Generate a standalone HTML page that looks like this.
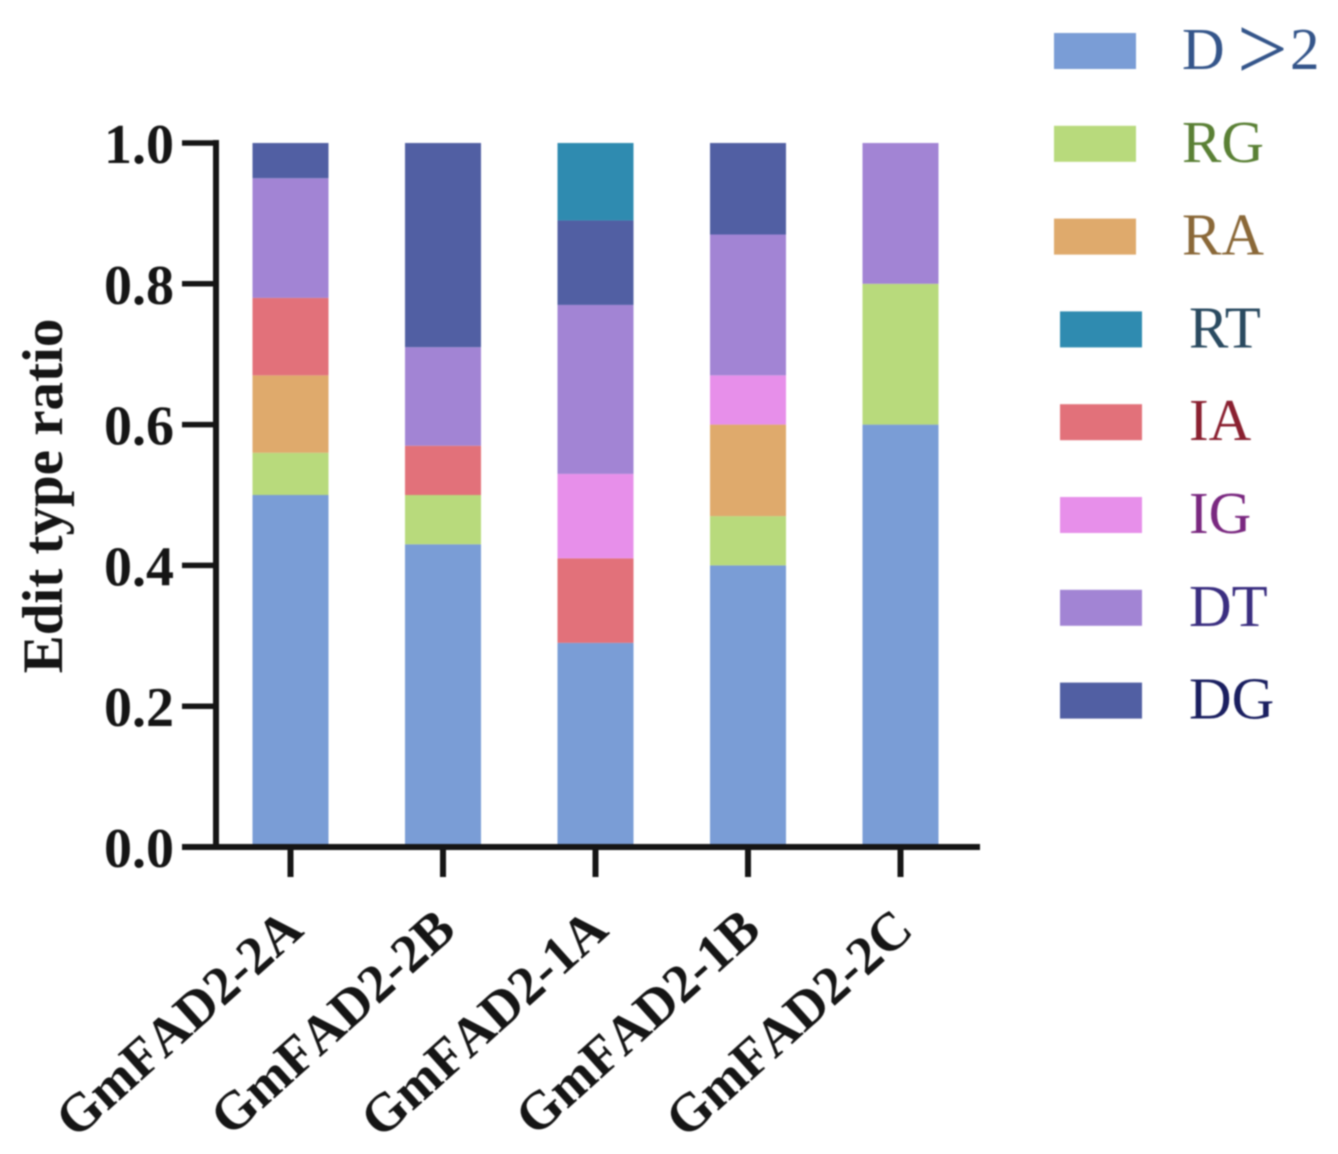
<!DOCTYPE html>
<html>
<head>
<meta charset="utf-8">
<style>
html,body{margin:0;padding:0;background:#fff;}
svg{display:block;filter:blur(0.7px);}
text{font-family:"Liberation Serif",serif;}
</style>
</head>
<body>
<svg id="chart" width="1338" height="1154" viewBox="0 0 1338 1154" xmlns="http://www.w3.org/2000/svg"></svg>
<script>
const categories = ["GmFAD2-2A","GmFAD2-2B","GmFAD2-1A","GmFAD2-1B","GmFAD2-2C"];
const seriesNames = ["D >2","RG","RA","RT","IA","IG","DT","DG"];
const seriesD2 = [0.50,0.43,0.29,0.40,0.60];
const seriesRG = [0.06,0.07,0,0.07,0.20];
const seriesRA = [0.11,0,0,0.13,0];
const seriesRT = [0,0,0.11,0,0];
const seriesIA = [0.11,0.07,0.12,0,0];
const seriesIG = [0,0,0.12,0.07,0];
const seriesDT = [0.17,0.14,0.24,0.20,0.20];
const seriesDG = [0.05,0.29,0.12,0.13,0];
const stackOrder = [seriesD2,seriesRG,seriesRA,seriesIA,seriesIG,seriesDT,seriesDG,seriesRT];
const stackColors = ["#7a9dd6","#b8da7c","#dfaa6c","#e2717a","#e78fea","#a284d4","#515fa3","#2f8bb0"];
const stackSlugs = ["d2","rg","ra","ia","ig","dt","dg","rt"];
const legendColors = ["#7a9dd6","#b8da7c","#dfaa6c","#2f8bb0","#e2717a","#e78fea","#a284d4","#515fa3"];
const legendTextColors = ["#34558a","#5a8035","#8a6838","#2a4a60","#8a2030","#7a2880","#3a2e80","#1a1f60"];
const yTicks = ["0.0","0.2","0.4","0.6","0.8","1.0"];

const svg = document.getElementById('chart');
const NS = 'http://www.w3.org/2000/svg';
function yScale(v){ return 847 - v * 704; }
function xScale(i){ return 290.5 + i * 152.5; }
function legendY(i){ return 51 + i * 92.8; }
function mk(tag, attrs, txt, parent){
  const e = document.createElementNS(NS, tag);
  for (const k in attrs) e.setAttribute(k, attrs[k]);
  if (txt !== undefined) e.textContent = txt;
  (parent || svg).appendChild(e);
  return e;
}

categories.forEach((c, i) => {
  let cum = 0;
  stackOrder.forEach((s, j) => {
    const v = s[i];
    if (v > 0) {
      const r = mk('rect', {x: xScale(i) - 38, y: yScale(cum + v), width: 76, height: yScale(cum) - yScale(cum + v), fill: stackColors[j]});
      
      
    }
    cum += v;
  });
});

const yAxis = mk('line', {x1: 216, x2: 216, y1: 140, y2: 850, stroke: '#151515', 'stroke-width': 6});


const xAxis = mk('line', {x1: 182, x2: 980, y1: yScale(0), y2: yScale(0), stroke: '#151515', 'stroke-width': 6});



yTicks.forEach((t) => {
  const v = parseFloat(t);
  const tick = mk('line', {x1: 182, x2: 216, y1: yScale(v), y2: yScale(v), stroke: '#151515', 'stroke-width': 5.5});
  
  
  const label = mk('text', {x: 174, y: yScale(v) + 20, 'text-anchor': 'end', 'font-size': 56, 'font-weight': 'bold', fill: '#151515'}, t);
  
  
});

categories.forEach((c, i) => {
  const tick = mk('line', {x1: xScale(i), x2: xScale(i), y1: 847, y2: 877, stroke: '#151515', 'stroke-width': 6});
  
  
  const lx = xScale(i) + 15;
  const ly = 933;
  const label = mk('text', {x: lx, y: ly, 'text-anchor': 'end', 'font-size': 54, 'font-weight': 'bold', fill: '#151515', style: 'font-kerning:none', transform: 'rotate(-42 ' + lx + ' ' + ly + ')'}, c);
  
  
});

const yTitle = mk('text', {x: 62, y: 496, 'text-anchor': 'middle', 'font-size': 57, 'font-weight': 'bold', fill: '#151515', transform: 'rotate(-90 62 496)'}, 'Edit type ratio');



seriesNames.forEach((n, i) => {
  const sx = i < 3 ? 1054 : 1060;
  const swatch = mk('rect', {x: sx, y: legendY(i) - 18, width: 82, height: 36, fill: legendColors[i]});
  
  
  const tx = i < 3 ? 1182 : 1189;
  const ty = legendY(i) + 18;
  const label = mk('text', {x: tx, y: ty, 'font-size': 59, fill: legendTextColors[i]});
  
  
  const gt = n.indexOf('>');
  if (gt < 0) {
    label.textContent = n;
  } else {
    mk('tspan', {}, n.slice(0, gt), label);
    mk('tspan', {x: tx + 55, y: ty + 10, 'font-size': 90}, '>', label);
    mk('tspan', {x: tx + 108, y: ty}, n.slice(gt + 1), label);
  }
});
</script>
</body>
</html>
